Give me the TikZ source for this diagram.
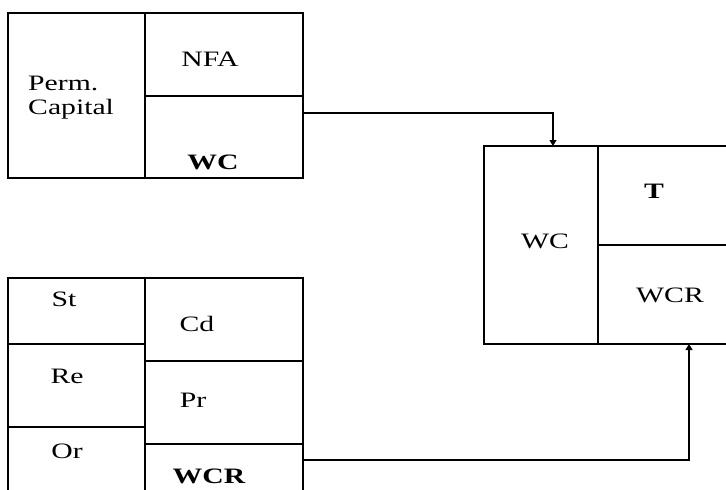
\documentclass[tikz,border=0pt]{standalone}
\usepackage{fontspec}
\setmainfont{Liberation Serif}[FakeStretch=1.35]
\usetikzlibrary{arrows.meta,positioning}
\tikzset {
  >={Triangle[length=6pt,width=7pt]},
  every node/.style={font=\fontsize{22}{24}\selectfont,inner sep=0pt},
  box/.style={line width=1.2pt},
  flow/.style={-{Triangle[length=6pt,width=7pt]},line width=1.1pt},
}

\begin{document}
\begin{tikzpicture}[x=1pt,y=-1pt]
      \useasboundingbox (0,0) rectangle (726,490);

      \draw[box] (8,13) rectangle (303,178);
      \draw[box] (145,13) -- (145,178);
      \draw[box] (145,96) -- (303,96);
      \node (perm) at (28,98)[anchor=west,align=left]{Perm.\\Capital};
      \node (nfa) at (210,59){NFA};
      \node (wctop) at (213,162){\bfseries WC};

      \draw[box] (8,490) -- (8,278) -- (303,278) -- (303,490);
      \draw[box] (145,278) -- (145,490);
      \draw[box] (8,344) -- (145,344);
      \draw[box] (8,427) -- (145,427);
      \draw[box] (145,361) -- (303,361);
      \draw[box] (145,444) -- (303,444);
      \node (st) at (64,299){St};
      \node (re) at (67,376){Re};
      \node (or) at (67,451){Or};
      \node (cd) at (197,324){Cd};
      \node (pr) at (193,400){Pr};
      \node (wcrbot) at (209,476){\bfseries WCR};

      \draw[box] (726,146) -- (484,146) -- (484,344) -- (726,344);
      \draw[box] (598,146) -- (598,344);
      \draw[box] (598,245) -- (726,245);
      \node (wcright) at (545,241){WC};
      \node (t) at (654,191){\bfseries T};
      \node (wcrright) at (670,295){WCR};

      \coordinate (wcout) at (303,113);
      \coordinate (wcin) at (553,146);
      \draw[flow] (wcout) -| (wcin);
      \coordinate (wcrout) at (303,460);
      \coordinate (wcrin) at (689,344);
      \draw[flow] (wcrout) -| (wcrin);
    \end{tikzpicture}
\end{document}
